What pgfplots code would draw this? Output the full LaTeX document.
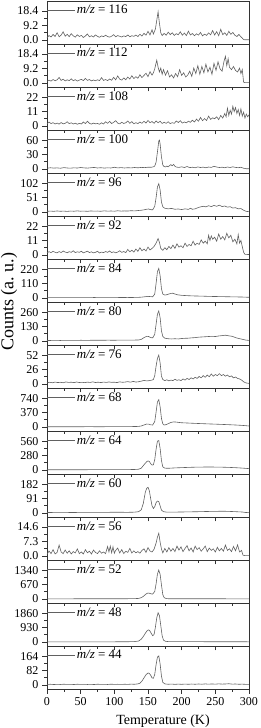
\documentclass[border=0pt]{standalone}
\usepackage{fontspec}
\setmainfont{Liberation Serif}
\usepackage{pgfplots}
\pgfplotsset{compat=1.18}
\pgfplotsset{
  panel/.style={
    scale only axis, width=202pt, height=43pt, anchor=south west,
    xmin=0, xmax=300, xtick={0,50,...,300}, minor x tick num=1, xticklabels={},
    minor y tick num=1,
    tick align=outside, xtick pos=bottom, ytick pos=left,
    major tick length=4.5pt, minor tick length=2.8pt,
    axis line style={black!80, line width=0.6pt},
    every tick/.style={black!80, line width=0.5pt},
    ticklabel style={font=\fontsize{12}{12}\selectfont},
    yticklabel style={xshift=-0.5pt},
    /pgf/number format/assume math mode=true,
    clip=true,
    legend style={at={(0,1)}, anchor=north west, draw=none, fill=none,
      inner xsep=0pt, inner ysep=1pt, yshift=-2.2pt, font=\fontsize{13}{13}\selectfont,
      nodes={inner sep=1pt}},
    legend cell align=left,
    legend image code/.code={\draw[##1] (0pt,0pt) -- (28pt,0pt);},
  },
  dataline/.style={color=black!62, line width=0.6pt, mark=none},
}
\begin{document}
\begin{tikzpicture}
% m/z = 116
\begin{axis}[panel, at={(0pt,15*43pt)}, ymin={-0.14*18.4}, ymax={1.35*18.4}, ytick={0,9.2,18.4}, yticklabels={0.0,9.2,18.4}]
\addplot[dataline] coordinates {(0,1.5)(3,2.8)(6,1.9)(9,3.5)(12,2.2)(15,4.6)(18,2.0)(21,3.1)(24,5.2)(27,2.4)(30,3.6)(33,2.1)(36,4.0)(39,2.6)(42,1.8)(45,3.3)(48,2.2)(51,2.9)(54,1.6)(57,2.5)(60,3.8)(63,2.0)(66,2.7)(69,1.9)(72,3.2)(75,2.3)(78,1.7)(81,2.6)(84,2.1)(87,3.0)(90,2.2)(93,1.8)(96,2.4)(99,3.4)(102,2.0)(105,2.8)(108,2.3)(111,1.9)(114,2.6)(117,2.1)(120,3.2)(123,2.0)(126,2.7)(129,2.3)(132,3.1)(135,2.2)(138,3.6)(141,2.5)(144,4.2)(147,3.0)(150,5.5)(153,3.2)(156,6.5)(158,3.8)(161,7.0)(163,12.5)(165,18.0)(167,10.5)(169,4.5)(171,2.8)(174,4.2)(177,3.0)(180,5.0)(183,3.4)(186,4.6)(189,2.9)(192,4.0)(195,3.3)(198,5.2)(201,3.0)(204,4.4)(207,2.8)(210,5.6)(213,3.2)(216,4.1)(219,2.7)(222,3.9)(225,3.1)(228,4.8)(231,2.6)(234,3.7)(237,2.9)(240,4.5)(243,3.3)(246,6.0)(249,3.1)(252,5.3)(255,2.7)(258,6.8)(261,3.4)(264,4.6)(267,2.9)(270,5.5)(273,3.6)(276,4.8)(279,3.0)(282,2.2)(285,3.5)(288,2.0)(290,1.2)(292,0.2)(295,0.1)(300,0.1)};
\addlegendentry{\textit{m/z} = 116}
\end{axis}
% m/z = 112
\begin{axis}[panel, at={(0pt,14*43pt)}, ymin={-0.14*18.4}, ymax={1.35*18.4}, ytick={0,9.2,18.4}, yticklabels={0.0,9.2,18.4}]
\addplot[dataline] coordinates {(0,1.0)(3,1.8)(6,1.2)(9,2.2)(12,1.4)(15,2.0)(18,3.5)(21,1.6)(24,2.4)(27,1.3)(30,2.0)(33,1.5)(36,2.6)(39,1.4)(42,2.1)(45,1.2)(48,1.8)(51,2.3)(54,1.5)(57,2.9)(60,1.6)(63,2.2)(66,1.3)(69,1.9)(72,1.4)(75,2.0)(78,1.5)(81,3.4)(84,1.6)(87,2.2)(90,1.5)(93,2.5)(96,1.7)(99,3.6)(102,2.0)(105,4.5)(108,2.4)(111,1.8)(114,3.2)(117,2.0)(120,3.8)(123,2.5)(126,4.6)(129,2.8)(132,4.0)(135,3.0)(138,5.2)(141,3.4)(144,4.8)(147,6.2)(150,4.0)(153,7.2)(156,5.0)(158,6.5)(160,9.0)(163,14.5)(165,10.0)(167,7.0)(169,9.5)(171,5.5)(173,8.5)(176,5.0)(179,7.8)(182,3.8)(185,5.2)(188,3.2)(191,6.0)(194,4.0)(197,8.5)(200,4.8)(203,6.5)(206,3.8)(209,5.0)(212,7.5)(215,4.2)(218,9.5)(221,6.0)(224,11.0)(227,5.5)(230,10.5)(233,6.5)(236,12.0)(239,7.0)(242,10.0)(245,5.5)(248,12.5)(251,8.0)(254,13.5)(257,9.0)(260,7.5)(263,14.0)(265,17.0)(267,11.0)(269,15.5)(271,10.0)(274,8.5)(277,10.5)(280,8.0)(283,7.0)(286,9.5)(288,6.0)(290,8.5)(292,0.5)(294,0.2)(300,0.2)};
\addlegendentry{\textit{m/z} = 112}
\end{axis}
% m/z = 108
\begin{axis}[panel, at={(0pt,13*43pt)}, ymin={-0.14*22}, ymax={1.35*22}, ytick={0,11,22}, yticklabels={0,11,22}]
\addplot[dataline] coordinates {(0,1.5)(3,3.0)(6,1.8)(9,2.5)(12,1.5)(15,2.2)(18,1.4)(21,2.6)(24,1.6)(27,2.0)(30,3.2)(33,1.8)(36,2.4)(39,1.5)(42,2.1)(45,1.3)(48,2.0)(51,1.5)(54,3.0)(57,1.8)(60,3.6)(63,2.0)(66,1.4)(69,2.2)(72,1.6)(75,1.9)(78,1.3)(81,2.4)(84,1.5)(87,3.2)(90,2.0)(93,3.5)(96,1.8)(99,2.8)(102,4.0)(105,2.2)(108,1.6)(111,2.8)(114,1.9)(117,2.4)(120,3.8)(123,2.0)(126,3.3)(129,1.6)(132,2.5)(135,1.8)(138,3.0)(141,2.0)(144,3.6)(147,2.2)(150,4.2)(153,2.5)(156,3.4)(159,2.0)(162,3.8)(165,2.4)(168,3.6)(171,1.9)(174,2.8)(177,2.0)(180,3.2)(183,1.8)(186,2.5)(189,2.0)(192,3.8)(195,2.6)(198,4.0)(201,2.2)(204,3.0)(207,2.4)(210,3.6)(213,2.8)(216,4.4)(219,3.0)(222,5.2)(225,3.6)(228,6.5)(231,4.0)(234,5.6)(237,4.2)(240,7.5)(243,5.0)(246,6.2)(249,5.5)(252,7.0)(255,4.8)(258,8.0)(261,6.0)(264,9.5)(266,7.0)(268,13.5)(270,8.0)(272,12.0)(274,9.0)(276,15.0)(278,11.0)(280,14.0)(282,9.5)(284,12.5)(286,8.0)(288,13.0)(290,7.5)(292,10.5)(294,6.0)(296,9.0)(298,7.0)(300,8.5)};
\addlegendentry{\textit{m/z} = 108}
\end{axis}
% m/z = 100
\begin{axis}[panel, at={(0pt,12*43pt)}, ymin={-0.14*60}, ymax={1.35*60}, ytick={0,30,60}, yticklabels={0,30,60}]
\addplot[dataline] coordinates {(0,1.5)(5,2.5)(10,1.8)(15,2.2)(20,1.5)(25,2.8)(30,2.0)(35,1.6)(40,2.4)(45,1.9)(50,3.0)(55,2.2)(60,1.8)(65,2.5)(70,3.2)(75,2.0)(80,2.6)(85,1.8)(90,2.4)(95,2.0)(100,3.5)(105,2.2)(110,2.8)(115,2.0)(120,2.6)(125,2.2)(130,3.0)(135,2.4)(140,3.2)(145,2.8)(150,3.6)(155,3.5)(158,4.5)(160,6)(162,14)(164,35)(166,58)(167,60)(168,52)(170,25)(172,8)(174,5)(176,4.2)(178,6.0)(180,4.5)(182,7.0)(184,9.0)(186,6.5)(188,9.5)(190,5.5)(192,4.0)(196,3.2)(200,4.5)(204,3.0)(208,5.0)(212,2.8)(216,3.6)(220,2.5)(224,4.2)(228,3.0)(232,3.8)(236,2.5)(240,4.0)(244,3.2)(248,5.5)(252,4.0)(256,3.0)(260,3.6)(264,2.6)(268,4.0)(272,3.0)(276,4.5)(280,3.2)(284,2.6)(288,3.5)(292,1.5)(296,0.5)(300,0.3)};
\addlegendentry{\textit{m/z} = 100}
\end{axis}
% m/z = 96
\begin{axis}[panel, at={(0pt,11*43pt)}, ymin={-0.14*102}, ymax={1.35*102}, ytick={0,51,102}, yticklabels={0,51,102}]
\addplot[dataline] coordinates {(0,2)(5,3)(10,2.2)(15,3.5)(20,2.4)(25,3.0)(30,2.0)(35,3.2)(40,2.5)(45,3.8)(50,2.6)(55,3.0)(60,2.2)(65,3.6)(70,2.8)(75,3.2)(80,2.4)(85,4.0)(90,2.8)(95,3.4)(100,2.6)(105,4.2)(110,3.0)(115,3.6)(120,3.2)(125,4.5)(130,3.6)(135,5.0)(140,6.0)(144,7.5)(148,9.5)(151,10.5)(154,8.0)(157,7.5)(160,20)(162,50)(164,88)(166,100)(168,78)(170,35)(172,18)(175,13)(180,11)(185,12.5)(190,9.5)(195,10.5)(200,8.5)(205,11)(210,9)(213,13)(216,9.5)(220,11)(224,15)(228,18)(232,20)(236,18)(240,22)(244,19)(248,23)(252,20)(256,24)(260,19)(264,21)(268,17)(272,18.5)(276,14)(280,15)(284,11)(288,12)(292,6)(296,2)(300,1)};
\addlegendentry{\textit{m/z} = 96}
\end{axis}
% m/z = 92
\begin{axis}[panel, at={(0pt,10*43pt)}, ymin={-0.14*22}, ymax={1.35*22}, ytick={0,11,22}, yticklabels={0,11,22}]
\addplot[dataline] coordinates {(0,1.5)(3,2.5)(6,1.8)(9,2.8)(12,2.0)(15,1.6)(18,2.6)(21,1.8)(24,3.0)(27,2.2)(30,1.7)(33,2.5)(36,2.0)(39,3.2)(42,1.8)(45,2.4)(48,2.0)(51,2.8)(54,1.6)(57,2.2)(60,2.9)(63,1.8)(66,2.4)(69,1.6)(72,2.0)(75,2.8)(78,1.5)(81,2.2)(84,1.8)(87,2.6)(90,2.0)(93,3.0)(96,1.8)(99,2.4)(102,1.6)(105,2.2)(108,3.2)(111,2.0)(114,2.6)(117,1.8)(120,4.2)(123,2.4)(126,3.6)(129,2.2)(132,4.5)(135,2.8)(138,5.5)(141,3.2)(144,4.5)(147,3.0)(150,6.0)(153,3.8)(156,5.0)(159,6.5)(162,9.0)(165,12.5)(167,9.5)(169,5.0)(172,3.5)(175,5.5)(178,4.0)(181,6.5)(184,4.8)(187,7.5)(190,5.0)(193,8.5)(196,6.0)(199,7.0)(202,5.5)(205,9.0)(208,6.5)(211,8.0)(214,7.0)(217,10.5)(220,7.5)(223,9.0)(226,8.0)(229,11.5)(232,9.0)(235,10.5)(238,8.5)(240,15.0)(242,11.0)(244,14.5)(246,12.0)(249,13.5)(252,10.5)(255,16.0)(258,12.0)(261,14.0)(264,11.5)(267,16.5)(270,13.0)(273,15.0)(276,10.0)(279,12.0)(282,8.5)(284,15.5)(286,9.0)(288,11.0)(290,6.5)(292,2.0)(294,0.5)(300,0.3)};
\addlegendentry{\textit{m/z} = 92}
\end{axis}
% m/z = 84
\begin{axis}[panel, at={(0pt,9*43pt)}, ymin={-0.14*220}, ymax={1.35*220}, ytick={0,110,220}, yticklabels={0,110,220}]
\addplot[dataline] coordinates {(0,2)(10,2.5)(20,2)(30,3)(40,2.2)(50,2.8)(60,2.4)(70,3.2)(80,2.6)(90,3.0)(100,2.6)(110,3.4)(120,3.0)(130,4.0)(135,4.5)(140,6)(145,9)(150,12)(154,10)(157,9)(160,30)(162,110)(164,200)(166,225)(168,170)(170,70)(172,30)(175,22)(178,25)(181,30)(184,35)(187,36)(190,30)(194,24)(200,20)(210,17)(220,15)(230,14)(240,12)(250,11)(260,10)(270,9)(280,8)(290,7)(300,5)};
\addlegendentry{\textit{m/z} = 84}
\end{axis}
% m/z = 80
\begin{axis}[panel, at={(0pt,8*43pt)}, ymin={-0.14*260}, ymax={1.35*260}, ytick={0,130,260}, yticklabels={0,130,260}]
\addplot[dataline] coordinates {(0,4)(10,5)(20,4.5)(30,5.5)(40,5)(50,6)(60,5.5)(70,6.5)(80,6)(90,7)(100,6.5)(110,7.5)(120,7)(130,8)(136,9)(140,14)(144,30)(148,42)(151,40)(154,30)(157,28)(160,60)(162,150)(164,240)(166,270)(168,210)(170,90)(172,40)(175,25)(180,20)(185,18)(190,20)(195,18)(200,22)(205,24)(210,25)(215,28)(220,30)(225,34)(230,36)(235,38)(240,40)(245,42)(250,40)(255,45)(260,48)(265,52)(270,46)(275,42)(280,30)(285,22)(290,15)(295,8)(300,5)};
\addlegendentry{\textit{m/z} = 80}
\end{axis}
% m/z = 76
\begin{axis}[panel, at={(0pt,7*43pt)}, ymin={-0.14*52}, ymax={1.35*52}, ytick={0,26,52}, yticklabels={0,26,52}]
\addplot[dataline] coordinates {(0,2)(4,3)(8,2.2)(12,3.4)(16,2.5)(20,3.0)(24,2.2)(28,3.6)(32,2.8)(36,3.2)(40,2.4)(44,3.5)(48,2.6)(52,3.0)(56,2.4)(60,3.3)(64,2.7)(68,3.8)(72,2.6)(76,3.2)(80,2.5)(84,3.4)(88,2.8)(92,3.6)(96,2.9)(100,3.2)(104,2.5)(108,3.8)(112,3.0)(116,3.4)(120,4.2)(124,3.2)(128,4.6)(132,3.4)(136,4.0)(140,5.0)(144,6.5)(148,5.5)(152,6.0)(156,7.0)(158,8)(160,15)(162,32)(164,46)(166,52)(168,38)(170,14)(172,8)(175,6)(178,7.5)(181,5.5)(184,7)(187,6)(190,8.5)(193,6.5)(196,7.5)(199,6)(202,9)(205,7)(208,10)(211,8)(214,11)(217,9)(220,12)(223,10)(226,13.5)(229,11)(232,15)(235,12)(238,16)(241,13)(244,18)(247,14)(250,17)(253,15)(256,18.5)(259,15)(262,17)(265,14)(268,16)(271,13)(274,14.5)(277,11)(280,12.5)(283,10)(286,9)(289,7)(292,4)(295,2)(300,1)};
\addlegendentry{\textit{m/z} = 76}
\end{axis}
% m/z = 68
\begin{axis}[panel, at={(0pt,6*43pt)}, ymin={-0.14*740}, ymax={1.35*740}, ytick={0,370,740}, yticklabels={0,370,740}]
\addplot[dataline] coordinates {(0,5)(20,6)(40,5)(60,7)(80,6)(100,8)(120,9)(130,11)(136,14)(140,25)(144,50)(148,75)(151,72)(154,55)(157,50)(160,140)(162,380)(164,640)(166,700)(168,520)(170,220)(172,80)(174,50)(177,60)(180,85)(184,115)(188,130)(192,125)(196,115)(200,108)(210,100)(220,92)(230,85)(240,78)(250,72)(260,65)(270,58)(280,50)(290,40)(300,25)};
\addlegendentry{\textit{m/z} = 68}
\end{axis}
% m/z = 64
\begin{axis}[panel, at={(0pt,5*43pt)}, ymin={-0.14*560}, ymax={1.35*560}, ytick={0,280,560}, yticklabels={0,280,560}]
\addplot[dataline] coordinates {(0,4)(20,5)(40,4.5)(60,5)(80,6)(100,5.5)(120,7)(130,9)(136,14)(140,35)(144,100)(148,160)(150,175)(152,165)(154,120)(156,95)(158,100)(160,200)(162,400)(164,560)(166,570)(168,420)(170,180)(172,60)(175,35)(180,32)(190,40)(200,45)(210,50)(220,54)(230,56)(240,58)(250,56)(260,54)(270,50)(280,44)(290,36)(300,26)};
\addlegendentry{\textit{m/z} = 64}
\end{axis}
% m/z = 60
\begin{axis}[panel, at={(0pt,4*43pt)}, ymin={-0.14*182}, ymax={1.35*182}, ytick={0,91,182}, yticklabels={0,91,182}]
\addplot[dataline] coordinates {(0,3)(20,3.5)(40,3)(60,4)(80,3.5)(100,4.5)(120,4)(130,5)(136,8)(140,20)(143,60)(146,130)(148,155)(150,162)(152,140)(154,90)(156,45)(158,28)(160,40)(162,65)(164,75)(166,72)(168,45)(170,18)(173,8)(178,5)(190,5.5)(200,6)(210,7)(220,7.5)(230,8.5)(240,9.5)(250,10)(260,11)(270,10)(280,8)(290,6)(295,3)(300,2)};
\addlegendentry{\textit{m/z} = 60}
\end{axis}
% m/z = 56
\begin{axis}[panel, at={(0pt,3*43pt)}, ymin={-0.14*14.6}, ymax={1.35*14.6}, ytick={0,7.3,14.6}, yticklabels={0.0,7.3,14.6}]
\addplot[dataline] coordinates {(0,0.8)(3,2.5)(6,1.2)(9,3.2)(12,1.0)(15,1.8)(18,5.5)(21,2.0)(24,1.2)(27,3.0)(30,1.4)(33,2.6)(36,1.0)(39,2.2)(42,1.5)(45,3.6)(48,1.2)(51,2.0)(54,1.0)(57,3.2)(60,1.6)(63,2.4)(66,1.0)(69,3.0)(72,1.8)(75,1.2)(78,2.6)(81,1.4)(84,2.0)(87,1.2)(90,4.8)(92,2.0)(94,5.0)(96,1.6)(98,4.6)(100,1.4)(102,2.8)(105,4.0)(108,1.5)(111,3.2)(114,1.2)(117,2.4)(120,1.8)(123,3.8)(126,1.5)(129,2.6)(132,1.6)(135,2.2)(138,1.4)(141,2.8)(144,3.6)(147,1.8)(150,4.2)(153,2.5)(156,2.0)(159,3.4)(162,6.5)(164,9.5)(166,11.5)(168,7.0)(170,3.5)(172,1.6)(175,3.8)(178,2.0)(181,4.2)(184,2.4)(187,3.8)(190,2.2)(193,5.0)(196,3.0)(199,4.6)(202,2.2)(205,3.8)(208,5.2)(211,2.6)(214,4.0)(217,2.0)(220,5.0)(223,3.2)(226,4.2)(229,2.4)(232,3.6)(235,5.0)(238,2.2)(241,4.0)(244,2.8)(247,3.6)(250,2.0)(253,4.4)(256,2.6)(259,3.8)(262,2.4)(265,5.5)(268,2.8)(271,3.6)(274,2.2)(277,4.8)(280,2.6)(283,5.6)(286,2.0)(289,2.8)(291,0.4)(294,0.2)(300,0.2)};
\addlegendentry{\textit{m/z} = 56}
\end{axis}
% m/z = 52
\begin{axis}[panel, at={(0pt,2*43pt)}, ymin={-0.14*1340}, ymax={1.35*1340}, ytick={0,670,1340}, yticklabels={0,670,1340}]
\addplot[dataline] coordinates {(0,5)(50,8)(100,10)(120,12)(130,15)(136,25)(140,60)(143,120)(146,200)(148,250)(150,275)(152,265)(155,235)(157,225)(160,350)(162,700)(164,1150)(166,1340)(168,1150)(170,650)(172,200)(174,60)(177,20)(180,12)(200,10)(250,8)(300,6)};
\addlegendentry{\textit{m/z} = 52}
\end{axis}
% m/z = 48
\begin{axis}[panel, at={(0pt,1*43pt)}, ymin={-0.14*1860}, ymax={1.35*1860}, ytick={0,930,1860}, yticklabels={0,930,1860}]
\addplot[dataline] coordinates {(0,5)(50,7)(100,10)(120,14)(130,25)(136,60)(140,180)(143,350)(146,560)(149,740)(151,780)(153,700)(155,540)(157,400)(159,480)(161,950)(163,1550)(165,1880)(167,1700)(169,1050)(171,400)(173,120)(176,40)(180,25)(200,20)(250,15)(300,10)};
\addlegendentry{\textit{m/z} = 48}
\end{axis}
% m/z = 44
\begin{axis}[panel, at={(0pt,0pt)}, ymin={-0.14*164}, ymax={1.35*164}, ytick={0,82,164}, yticklabels={0,82,164},
  xticklabels={0,50,100,150,200,250,300}]
\addplot[dataline] coordinates {(0,3)(5,4)(10,2.5)(15,3.5)(20,2.8)(25,4.2)(30,3.0)(35,3.6)(40,2.6)(45,4.0)(50,3.2)(55,3.8)(60,2.8)(65,3.4)(70,2.6)(75,4.2)(80,3.0)(85,3.6)(90,2.8)(95,4.4)(100,3.2)(105,3.8)(110,3.0)(115,4.0)(120,3.4)(125,4.6)(130,4.0)(135,6)(138,10)(141,22)(144,40)(147,58)(150,68)(152,66)(154,55)(156,40)(158,38)(160,60)(162,115)(164,158)(166,165)(168,120)(170,50)(172,15)(175,6)(180,4)(185,5)(190,3.5)(195,4.8)(200,3.6)(205,5.0)(210,3.8)(215,5.2)(220,4.0)(225,5.5)(230,4.2)(235,6.0)(240,4.4)(245,5.8)(250,4.6)(255,6.2)(260,5.0)(265,5.6)(270,7.0)(275,4.8)(280,5.4)(285,4.0)(290,4.6)(295,3.5)(300,3.0)};
\addlegendentry{\textit{m/z} = 44}
\end{axis}
\node[rotate=90, font=\fontsize{18}{18}\selectfont] at (-38pt,387pt) {Counts (a.\ u.)};
\node[anchor=base, font=\fontsize{14}{14}\selectfont] at (116pt,-35.3pt) {Temperature (K)};
\pgfresetboundingbox
\path[use as bounding box] (-47pt,-39pt) rectangle (214pt,689pt);
\end{tikzpicture}
\end{document}
